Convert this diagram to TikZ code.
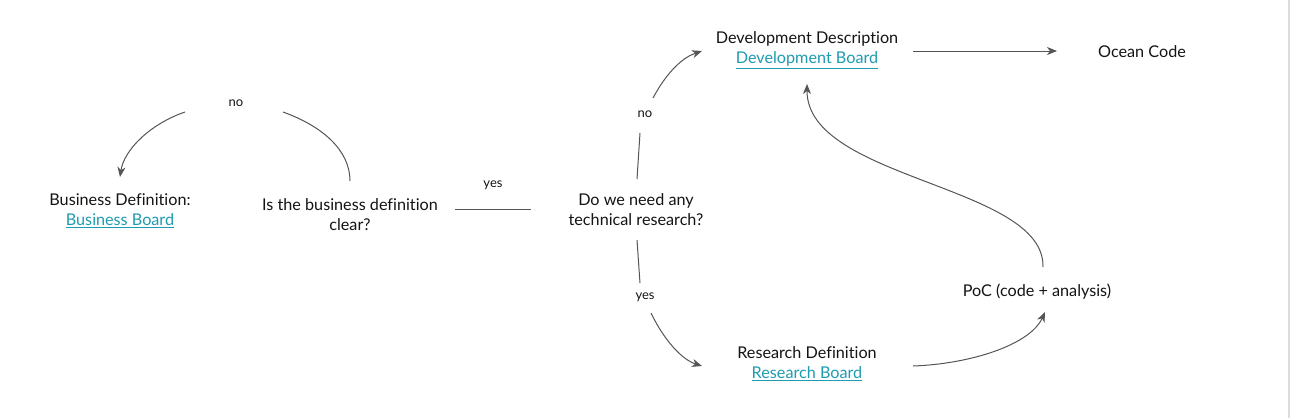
\documentclass[tikz,border=0pt]{standalone}
\usepackage{fontspec}
\setmainfont[Ligatures={NoCommon}]{Lato}
\usetikzlibrary{arrows.meta}
\definecolor{linkc}{RGB}{30,156,176}
\definecolor{linec}{RGB}{85,85,85}
\definecolor{txtc}{RGB}{20,20,20}
\tikzset{
  lbl/.style={font=\fontsize{16.2}{20}\selectfont, text=txtc, align=center, inner sep=1pt},
  small/.style={font=\fontsize{13}{15}\selectfont, text=txtc, inner sep=1pt},
  conn/.style={draw=linec, line width=1pt},
  arr/.style={conn, -{Stealth[length=10pt, width=8pt, inset=3pt]}},
}
\newcommand{\lnk}[1]{\textcolor{linkc}{\underline{#1}}}
\begin{document}
\begin{tikzpicture}[x=1pt, y=-1pt]
\useasboundingbox (0,0) rectangle (1291,418);
\fill[white] (0,0) rectangle (1291,418);
\draw[draw={rgb,255:red,220;green,220;blue,220}, line width=2pt] (1289,0) -- (1289,418);

% nodes
\node[lbl] (bd) at (120,211) {Business Definition:\\\lnk{Business Board}};
\node[lbl] (q1) at (350,215) {Is the business definition\\clear?};
\node[lbl] (q2) at (636,210) {Do we need any\\technical research?};
\node[lbl] (dev) at (807,50) {Development Description\\\lnk{Development Board}};
\node[lbl] (ocean) at (1142,52) {Ocean Code};
\node[lbl] (res) at (807,364) {Research Definition\\\lnk{Research Board}};
\node[lbl] (poc) at (1037,292) {PoC (code + analysis)};

% labels
\node[small] (no1) at (236,103) {no};
\node[small] (yes1) at (493,185) {yes};
\node[small] (no2) at (645,114) {no};
\node[small] (yes2) at (645,297) {yes};

% named endpoints
\coordinate (a1) at (350,181);
\coordinate (a2) at (283,112);
\coordinate (a3) at (185,112);
\coordinate (a4) at (120,177);
\coordinate (b1) at (455,209);
\coordinate (b2) at (531,209);
\coordinate (c1) at (637,179);
\coordinate (c2) at (640,133);
\coordinate (c3) at (653,98);
\coordinate (c4) at (702,51);
\coordinate (d1) at (637,240);
\coordinate (d2) at (640,283);
\coordinate (d3) at (651,313);
\coordinate (d4) at (702,366);
\coordinate (e1) at (913,51);
\coordinate (e2) at (1057,51);
\coordinate (f1) at (913,366);
\coordinate (f2) at (1045,312);
\coordinate (g1) at (1043,267);
\coordinate (g2) at (807,84);

% connectors
\draw[conn] (a1) .. controls (350,150) and (322,126) .. (a2);
\draw[arr] (a3) .. controls (150,124) and (124,150) .. (a4);
\draw[conn] (b1) -- (b2);
\draw[conn] (c1) -- (c2);
\draw[arr] (c3) .. controls (668,70) and (684,57) .. (c4);
\draw[conn] (d1) -- (d2);
\draw[arr] (d3) .. controls (665,342) and (683,360) .. (d4);
\draw[arr] (e1) -- (e2);
\draw[arr] (f1) .. controls (970,364) and (1030,345) .. (f2);
\draw[arr] (g1) .. controls (1045,185) and (807,180) .. (g2);
\end{tikzpicture}
\end{document}
